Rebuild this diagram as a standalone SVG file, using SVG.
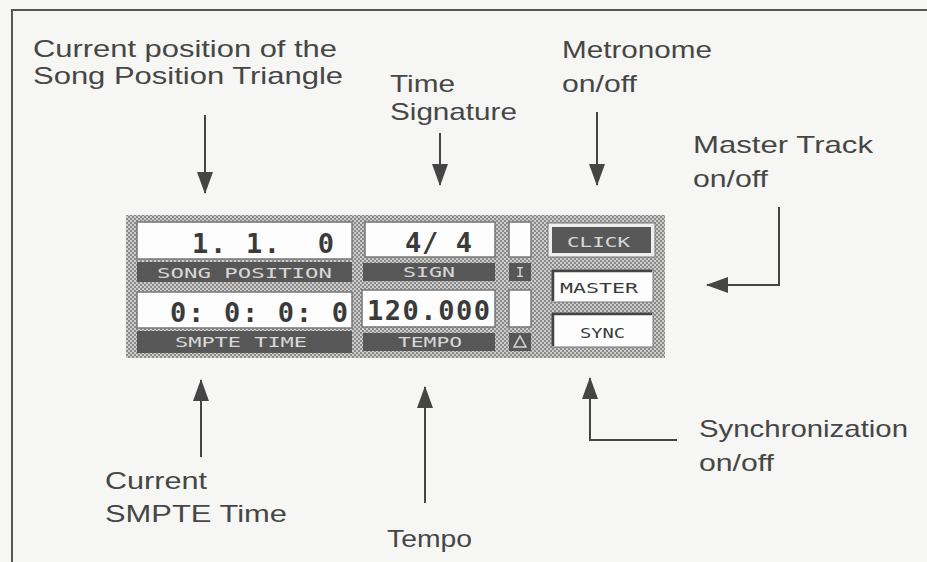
<svg xmlns="http://www.w3.org/2000/svg" width="927" height="562" viewBox="0 0 927 562">
<style>
.lbl{font-family:"Liberation Sans",Arial,sans-serif;font-size:24px;fill:#464646}
.con{fill:none;stroke:#454545;stroke-width:2}
.field{fill:#fdfdfd;stroke:#777;stroke-width:1.5}
.bar{fill:#575757}
.dig{font-family:"DejaVu Sans Mono","Liberation Mono",monospace;font-weight:bold;font-size:27px;fill:#3a3a3a}
.cap{font-family:"DejaVu Sans Mono","Liberation Mono",monospace;font-size:14px;fill:#d8d8d8}
.btn{font-family:"DejaVu Sans Mono","Liberation Mono",monospace;font-size:14px;fill:#3a3a3a}
</style>
<defs>
<pattern id="chk" width="4" height="4" patternUnits="userSpaceOnUse">
<rect width="4" height="4" fill="#cdcdcd"/>
<rect width="2" height="2" fill="#8a8a8a"/>
<rect x="2" y="2" width="2" height="2" fill="#8a8a8a"/>
</pattern>
<marker id="ah" markerUnits="userSpaceOnUse" markerWidth="22" markerHeight="16" refX="21" refY="8" orient="auto">
<path d="M0,0 L22,8 L0,16 z" fill="#454545"/>
</marker>
</defs>
<rect width="927" height="562" fill="#f6f6f4"/>
<path d="M12,562 V10 H927" fill="none" stroke="#555" stroke-width="2"/>

<g id="connectors">
<path class="con" d="M205,115 V193" marker-end="url(#ah)"/>
<path class="con" d="M440,133 V185" marker-end="url(#ah)"/>
<path class="con" d="M597,112 V185" marker-end="url(#ah)"/>
<path class="con" d="M779,207 V285 H707" marker-end="url(#ah)"/>
<path class="con" d="M677,440 H590 V378" marker-end="url(#ah)"/>
<path class="con" d="M201,457 V380" marker-end="url(#ah)"/>
<path class="con" d="M425,503 V387" marker-end="url(#ah)"/>
</g>

<g id="label-song-position">
<text class="lbl" x="33" y="57" textLength="304" lengthAdjust="spacingAndGlyphs">Current position of the</text>
<text class="lbl" x="33" y="84" textLength="310" lengthAdjust="spacingAndGlyphs">Song Position Triangle</text>
</g>
<g id="label-time-signature">
<text class="lbl" x="390" y="92" textLength="65" lengthAdjust="spacingAndGlyphs">Time</text>
<text class="lbl" x="390" y="120" textLength="127" lengthAdjust="spacingAndGlyphs">Signature</text>
</g>
<g id="label-metronome">
<text class="lbl" x="562" y="58" textLength="150" lengthAdjust="spacingAndGlyphs">Metronome</text>
<text class="lbl" x="562" y="92" textLength="75" lengthAdjust="spacingAndGlyphs">on/off</text>
</g>
<g id="label-master-track">
<text class="lbl" x="693" y="153" textLength="180" lengthAdjust="spacingAndGlyphs">Master Track</text>
<text class="lbl" x="693" y="187" textLength="75" lengthAdjust="spacingAndGlyphs">on/off</text>
</g>
<g id="label-sync">
<text class="lbl" x="699" y="437" textLength="209" lengthAdjust="spacingAndGlyphs">Synchronization</text>
<text class="lbl" x="699" y="471" textLength="75" lengthAdjust="spacingAndGlyphs">on/off</text>
</g>
<g id="label-smpte">
<text class="lbl" x="105" y="489" textLength="102" lengthAdjust="spacingAndGlyphs">Current</text>
<text class="lbl" x="105" y="522" textLength="182" lengthAdjust="spacingAndGlyphs">SMPTE Time</text>
</g>
<g id="label-tempo">
<text class="lbl" x="387" y="547" textLength="85" lengthAdjust="spacingAndGlyphs">Tempo</text>
</g>

<g id="panel">
<rect x="126" y="215" width="539" height="143" fill="url(#chk)"/>
</g>
<g id="song-position">
<rect class="field" x="137" y="222" width="215" height="37"/>
<text class="dig" x="334" y="253" text-anchor="end" textLength="142" lengthAdjust="spacing" xml:space="preserve">1. 1.  0</text>
<rect class="bar" x="137" y="262" width="215" height="20"/>
<text class="cap" x="157" y="278" textLength="175" lengthAdjust="spacingAndGlyphs">SONG POSITION</text>
</g>
<g id="smpte-time">
<rect class="field" x="137" y="292" width="215" height="36"/>
<text class="dig" x="348" y="322" text-anchor="end" textLength="178" lengthAdjust="spacing">0: 0: 0: 0</text>
<rect class="bar" x="137" y="331" width="215" height="22"/>
<text class="cap" x="175" y="347" textLength="132" lengthAdjust="spacingAndGlyphs">SMPTE TIME</text>
</g>
<g id="sign">
<rect class="field" x="365" y="222" width="130" height="35"/>
<text class="dig" x="472" y="252" text-anchor="end" textLength="67" lengthAdjust="spacing" xml:space="preserve">4/ 4</text>
<rect class="bar" x="363" y="263" width="132" height="18"/>
<text class="cap" x="403" y="277" textLength="52" lengthAdjust="spacingAndGlyphs">SIGN</text>
</g>
<g id="tempo">
<rect class="field" x="362" y="290" width="133" height="37"/>
<text class="dig" x="490" y="320" text-anchor="end" textLength="123" lengthAdjust="spacing">120.000</text>
<rect class="bar" x="363" y="333" width="132" height="18"/>
<text class="cap" x="398" y="347" textLength="64" lengthAdjust="spacingAndGlyphs">TEMPO</text>
</g>
<g id="indicator-in">
<rect class="field" x="509" y="222" width="22" height="35"/>
<rect class="bar" x="509" y="263" width="22" height="18"/>
<text class="cap" x="520" y="277" text-anchor="middle">I</text>
</g>
<g id="indicator-out">
<rect class="field" x="509" y="290" width="22" height="37"/>
<rect class="bar" x="509" y="333" width="22" height="18"/>
<path d="M520,336 L526,347 H514 Z" fill="none" stroke="#d8d8d8" stroke-width="1.5"/>
</g>
<g id="click">
<rect x="548" y="223" width="107" height="34" fill="#eee" stroke="#777" stroke-width="1"/>
<rect x="552" y="227" width="99" height="26" fill="#585858"/>
<text class="cap" x="567" y="247" textLength="63" lengthAdjust="spacingAndGlyphs">CLICK</text>
</g>
<g id="master">
<rect x="552" y="270" width="101" height="32" fill="#fdfdfd" stroke="#777" stroke-width="1"/>
<path d="M553,301 V271 H652" fill="none" stroke="#444" stroke-width="2.5"/>
<text class="btn" x="560" y="293" textLength="78" lengthAdjust="spacingAndGlyphs">MASTER</text>
</g>
<g id="sync">
<rect x="552" y="313" width="101" height="34" fill="#fdfdfd" stroke="#777" stroke-width="1"/>
<path d="M553,346 V314 H652" fill="none" stroke="#444" stroke-width="2.5"/>
<text class="btn" x="580" y="338" textLength="45" lengthAdjust="spacingAndGlyphs">SYNC</text>
</g>
</svg>
